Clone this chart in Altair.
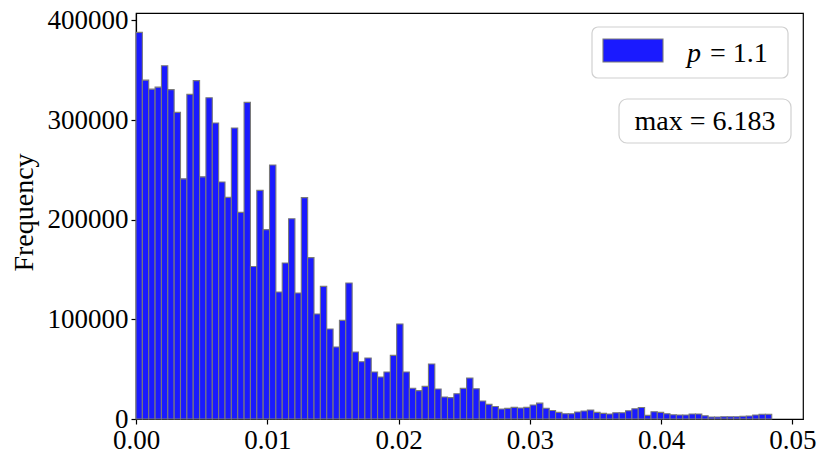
import altair as alt
import pandas as pd

# Histogram counts (100 equal bins starting at 0)
counts = [388000, 340000, 331000, 333000, 354500, 330500, 307700, 241000, 325700, 339500,
          243000, 322400, 297000, 237800, 222400, 292000, 207300, 317700, 153100, 229400,
          190000, 254900, 127400, 156500, 201000, 126400, 222100, 161900, 105400, 133100,
          90300, 72300, 99000, 136500, 67200, 57500, 61200, 47200, 42100, 47200,
          63800, 95400, 47200, 30900, 28500, 32700, 55200, 30100, 22100, 21400,
          25400, 30700, 41100, 30400, 18000, 14700, 12600, 10000, 10700, 11700,
          11000, 11700, 14000, 15900, 10800, 8600, 6600, 5300, 5300, 7000,
          8000, 9000, 6600, 5600, 5000, 6300, 6300, 8300, 10300, 11600,
          3600, 7300, 6600, 5300, 4200, 4000, 4000, 5000, 5000, 3300,
          2000, 2000, 2300, 2300, 2300, 2700, 3000, 4000, 4700, 4700]
bin_width = 0.0004842
x_ticks = [0.0, 0.01, 0.02, 0.03, 0.04, 0.05]
y_ticks = [0, 100000, 200000, 300000, 400000]
legend_p = "p"
legend_rest = "= 1.1"
max_label = "max = 6.183"

df = pd.DataFrame({
    "start": [i * bin_width for i in range(len(counts))],
    "end": [(i + 1) * bin_width for i in range(len(counts))],
    "count": counts,
})

FONT = "Liberation Serif"
FS = 28
LFS = 27
W, H = 667, 406

xs = alt.Scale(domain=[0, 0.0508], nice=False, zero=False)
ys = alt.Scale(domain=[0, 407400], nice=False)

bars = alt.Chart(df).mark_bar(
    color="#1a1aff", stroke="#7a7a7a", strokeWidth=1.1, opacity=1
).encode(
    x=alt.X("start:Q", scale=xs, axis=alt.Axis(values=x_ticks, format=".2f", title=None)),
    x2="end:Q",
    y=alt.Y("count:Q", scale=ys, axis=alt.Axis(
        values=y_ticks, format="d", title="Frequency",
        titleX=-112, titleY=199, titleAngle=270, titleAlign="center",
        titleBaseline="middle")),
    y2=alt.datum(0),
)

legend_box = alt.Chart(df.head(1)).mark_rect(
    fill="white", stroke="#cccccc", strokeWidth=1.2, cornerRadius=6, opacity=0.9
).encode(x=alt.value(456), x2=alt.value(652), y=alt.value(14), y2=alt.value(65))

patch = alt.Chart(df.head(1)).mark_rect(
    fill="#1a1aff", stroke="#7a7a7a", strokeWidth=1.1
).encode(x=alt.value(467), x2=alt.value(527), y=alt.value(26), y2=alt.value(49))

p_text = alt.Chart(df.head(1)).mark_text(
    font=FONT, fontSize=FS, fontStyle="italic", align="left", baseline="alphabetic"
).encode(x=alt.value(551), y=alt.value(48.5), text=alt.value(legend_p))

rest_text = alt.Chart(df.head(1)).mark_text(
    font=FONT, fontSize=FS, align="left", baseline="alphabetic"
).encode(x=alt.value(574), y=alt.value(48.5), text=alt.value(legend_rest))

max_box = alt.Chart(df.head(1)).mark_rect(
    fill="white", stroke="#cccccc", strokeWidth=1.2, cornerRadius=8, opacity=0.9
).encode(x=alt.value(483), x2=alt.value(655), y=alt.value(86), y2=alt.value(130))

max_text = alt.Chart(df.head(1)).mark_text(
    font=FONT, fontSize=FS, align="center", baseline="alphabetic"
).encode(x=alt.value(569), y=alt.value(117), text=alt.value(max_label))

chart = alt.layer(bars, legend_box, patch, p_text, rest_text, max_box, max_text).properties(
    width=W, height=H,
    autosize=alt.AutoSizeParams(type="none"),
    padding={"left": 128, "top": 5, "right": 18, "bottom": 40},
).configure_view(
    stroke="black", strokeWidth=1.2
).configure_axis(
    grid=False, domainColor="black", domainWidth=1.2, tickColor="black",
    tickSize=5, tickWidth=1.2, labelFont=FONT, labelFontSize=LFS, labelColor="black",
    titleFont=FONT, titleFontSize=FS, titleColor="black", titleFontWeight="normal",
    labelPadding=3
).configure_axisX(
    labelBaseline="top", labelAlign="center", labelPadding=3
)

chart.save("out.html", embed_options={"renderer": "svg", "actions": False})
